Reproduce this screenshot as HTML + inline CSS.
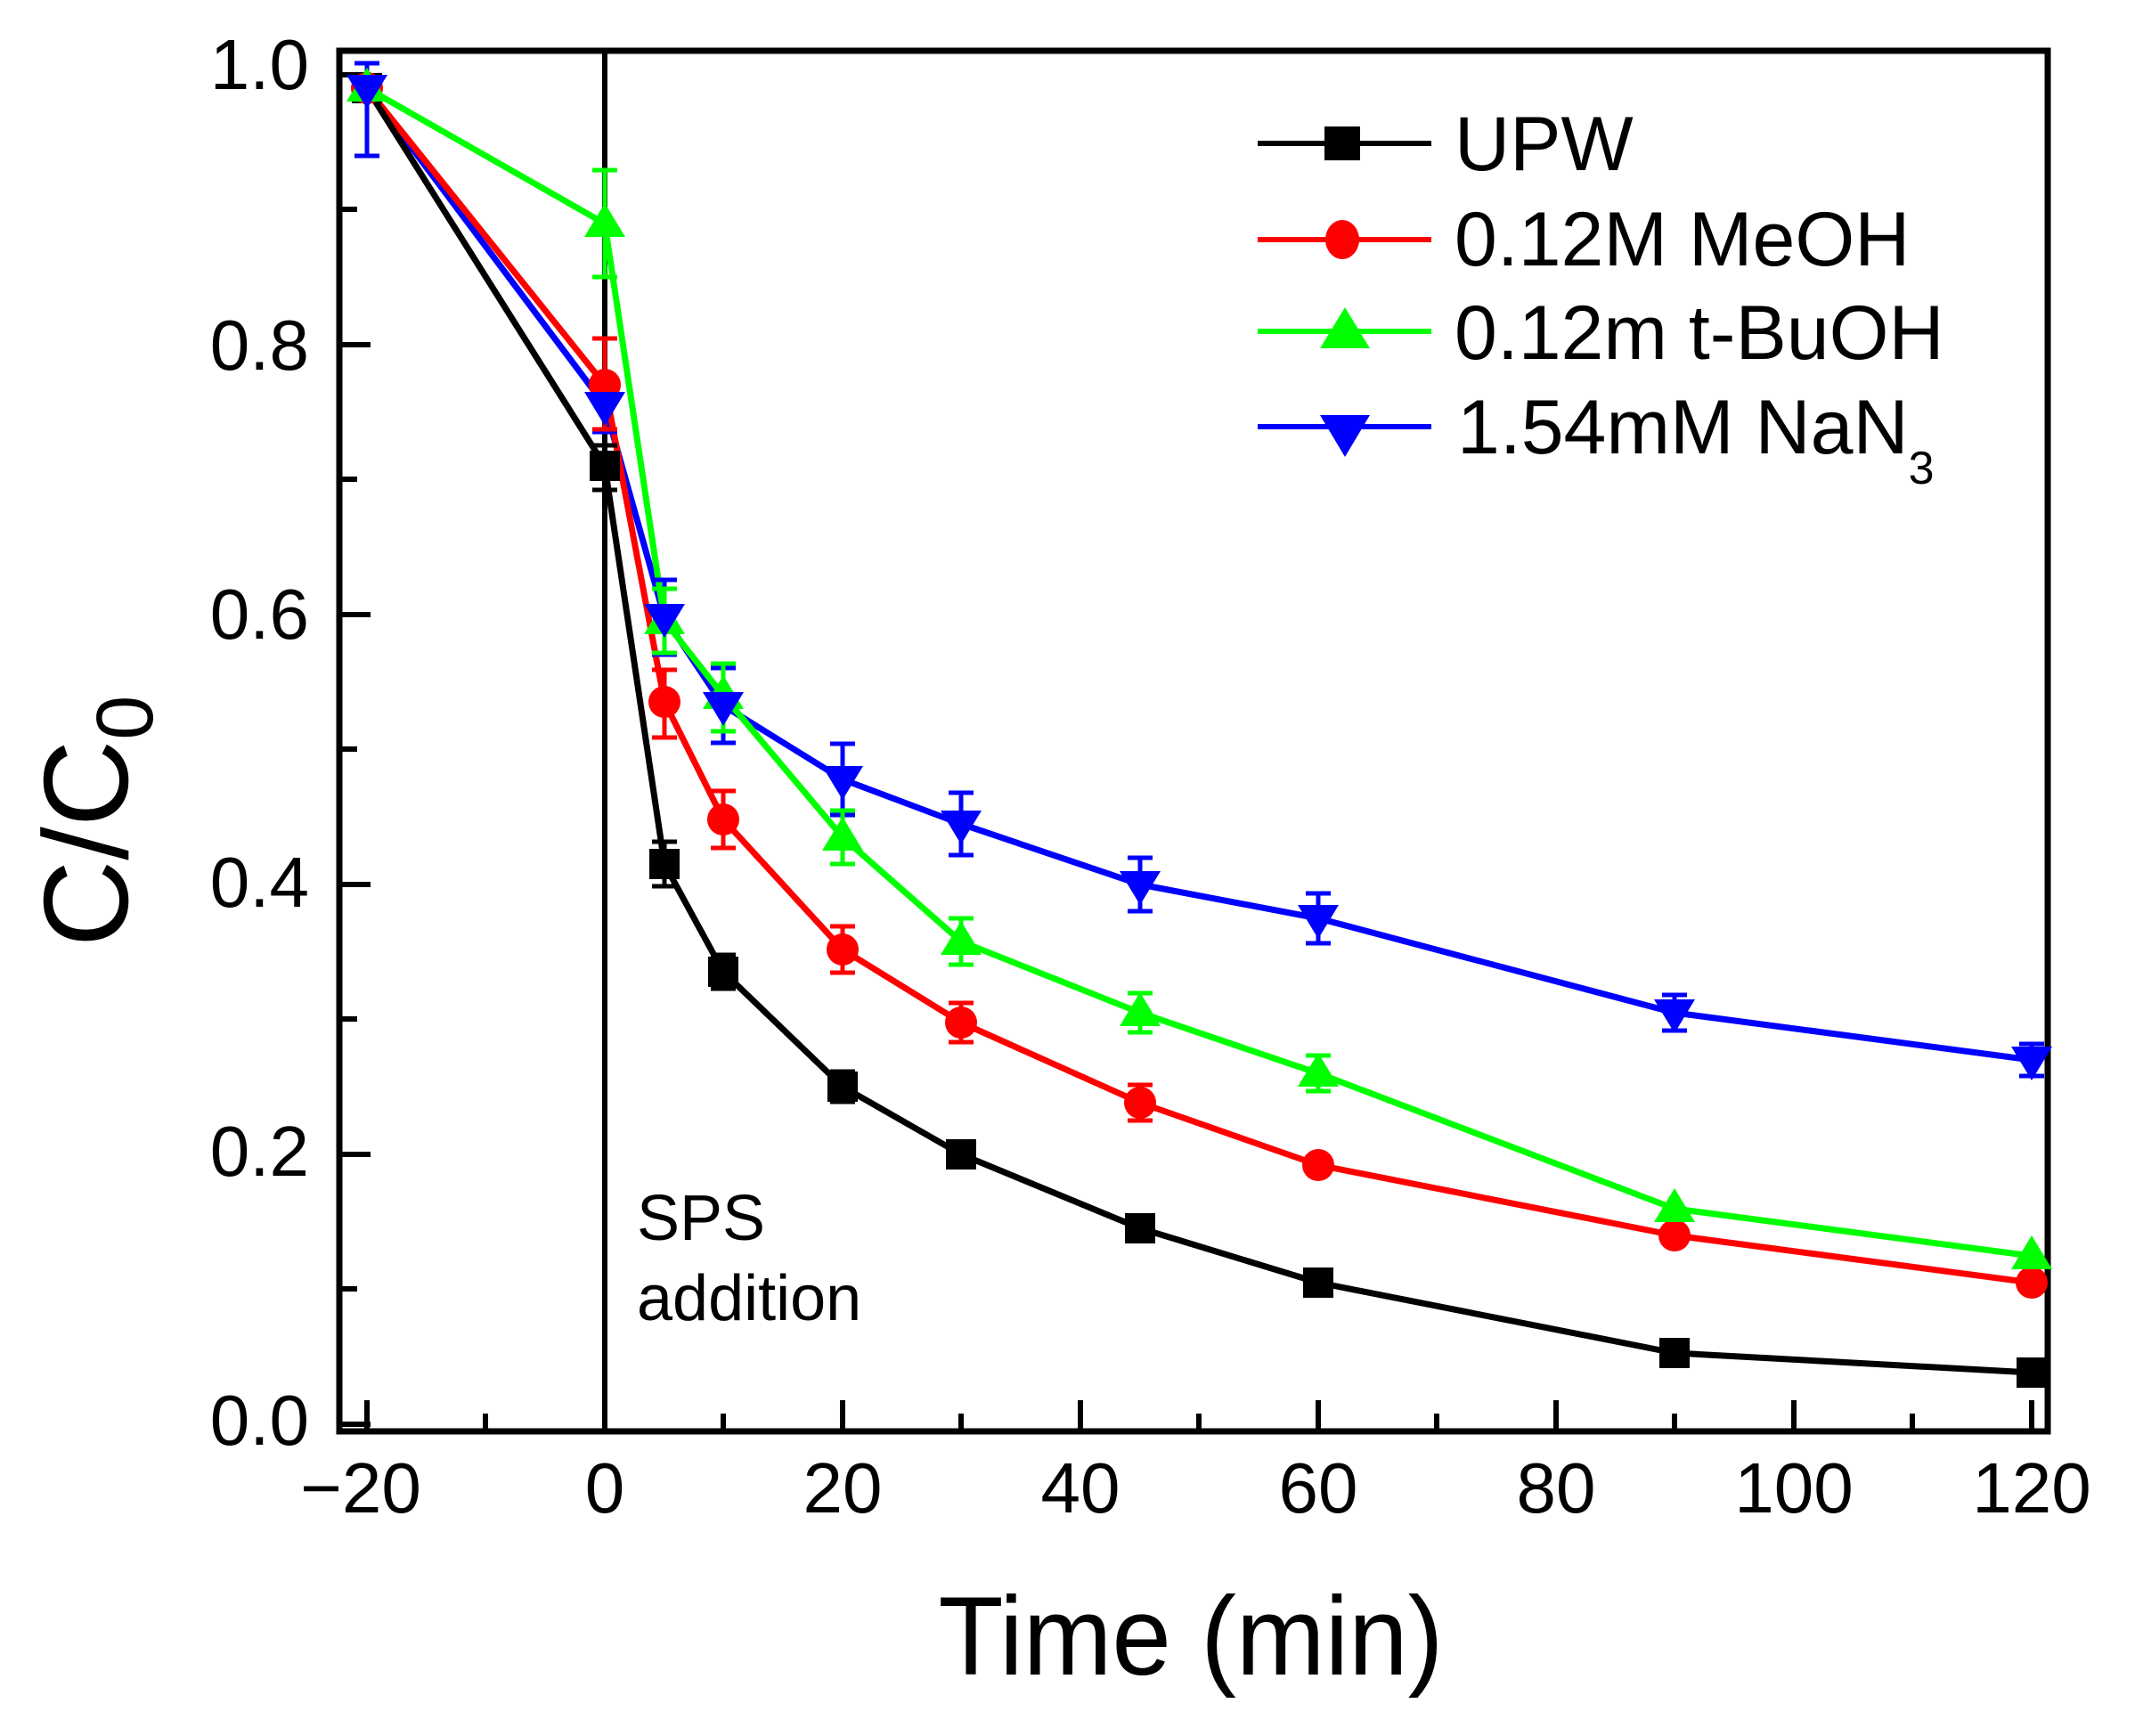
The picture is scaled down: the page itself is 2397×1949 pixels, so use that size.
<!DOCTYPE html>
<html><head><meta charset="utf-8"><style>
html,body{margin:0;padding:0;background:#fff;}
svg{display:block;}
text{font-family:"Liberation Sans",Arial,sans-serif;fill:#000;}
</style></head><body>
<svg width="2397" height="1949" viewBox="0 0 2397 1949" xmlns="http://www.w3.org/2000/svg">
<rect width="2397" height="1949" fill="#fff"/>
<g id="ticks" stroke="#000" stroke-width="6">
<line x1="381" y1="1599" x2="416" y2="1599"/>
<line x1="381" y1="1296" x2="416" y2="1296"/>
<line x1="381" y1="993" x2="416" y2="993"/>
<line x1="381" y1="690" x2="416" y2="690"/>
<line x1="381" y1="387" x2="416" y2="387"/>
<line x1="381" y1="84" x2="416" y2="84"/>
<line x1="381" y1="1447" x2="401" y2="1447"/>
<line x1="381" y1="1144" x2="401" y2="1144"/>
<line x1="381" y1="841" x2="401" y2="841"/>
<line x1="381" y1="538" x2="401" y2="538"/>
<line x1="381" y1="235" x2="401" y2="235"/>
<line x1="412" y1="1607" x2="412" y2="1572"/>
<line x1="679" y1="1607" x2="679" y2="1572"/>
<line x1="946" y1="1607" x2="946" y2="1572"/>
<line x1="1213" y1="1607" x2="1213" y2="1572"/>
<line x1="1480" y1="1607" x2="1480" y2="1572"/>
<line x1="1747" y1="1607" x2="1747" y2="1572"/>
<line x1="2014" y1="1607" x2="2014" y2="1572"/>
<line x1="2281" y1="1607" x2="2281" y2="1572"/>
<line x1="545" y1="1607" x2="545" y2="1587"/>
<line x1="812" y1="1607" x2="812" y2="1587"/>
<line x1="1079" y1="1607" x2="1079" y2="1587"/>
<line x1="1346" y1="1607" x2="1346" y2="1587"/>
<line x1="1613" y1="1607" x2="1613" y2="1587"/>
<line x1="1880" y1="1607" x2="1880" y2="1587"/>
<line x1="2147" y1="1607" x2="2147" y2="1587"/>
</g>
<line x1="679" y1="57" x2="679" y2="1607" stroke="#000" stroke-width="6"/>
<rect x="381" y="57" width="1918" height="1550" fill="none" stroke="#000" stroke-width="7"/>

<g font-size="80" text-anchor="end">
<text x="347" y="1622">0.0</text>
<text x="347" y="1320">0.2</text>
<text x="347" y="1018">0.4</text>
<text x="347" y="717">0.6</text>
<text x="347" y="415">0.8</text>
<text x="347" y="100">1.0</text>
</g>
<g font-size="80" text-anchor="middle">
<text x="405" y="1698">−20</text>
<text x="679" y="1698">0</text>
<text x="946" y="1698">20</text>
<text x="1213" y="1698">40</text>
<text x="1480" y="1698">60</text>
<text x="1747" y="1698">80</text>
<text x="2014" y="1698">100</text>
<text x="2281" y="1698">120</text>
</g>
<text x="1337" y="1880" font-size="125" text-anchor="middle" textLength="567" lengthAdjust="spacingAndGlyphs">Time (min)</text>
<g transform="translate(143,922) rotate(-90)">
<text x="0" y="0" font-size="135" text-anchor="middle">C/C<tspan font-size="90" dy="28">0</tspan></text>
</g>
<text x="715" y="1392" font-size="72">SPS</text>
<text x="715" y="1482" font-size="72">addition</text>

<g fill="none" stroke-width="7" stroke-linejoin="round">
<polyline stroke="#0000ff" points="412,99 679,455 746,693 812,792 946,875 1079,925 1280,993 1480,1031 1880,1137 2281,1190"/>
<polyline stroke="#00ff00" points="412,99 679,251 746,697 812,781 946,940 1079,1057 1280,1137 1480,1205 1880,1357 2281,1410"/>
<polyline stroke="#ff0000" points="412,99 679,432 746,788 812,920 946,1066 1079,1148 1280,1238 1480,1308 1880,1387 2281,1440"/>
<polyline stroke="#000" points="412,99 679,523 746,970 812,1091 946,1220 1079,1296 1280,1379 1480,1440 1880,1519 2281,1541"/>
</g>

<g stroke-width="5" fill="none">
<g stroke="#0000ff">
<path d="M412,71V175M398,71H426M398,175H426"/>
<path d="M679,425V485M665,425H693M665,485H693"/>
<path d="M746,651V735M732,651H760M732,735H760"/>
<path d="M812,750V834M798,750H826M798,834H826"/>
<path d="M946,835V915M932,835H960M932,915H960"/>
<path d="M1079,890V960M1065,890H1093M1065,960H1093"/>
<path d="M1280,963V1023M1266,963H1294M1266,1023H1294"/>
<path d="M1480,1003V1059M1466,1003H1494M1466,1059H1494"/>
<path d="M1880,1117V1157M1866,1117H1894M1866,1157H1894"/>
<path d="M2281,1172V1208M2267,1172H2295M2267,1208H2295"/>
</g>
<g stroke="#00ff00">
<path d="M679,191V311M665,191H693M665,311H693"/>
<path d="M746,661V733M732,661H760M732,733H760"/>
<path d="M812,745V821M798,745H826M798,821H826"/>
<path d="M946,910V970M932,910H960M932,970H960"/>
<path d="M1079,1031V1083M1065,1031H1093M1065,1083H1093"/>
<path d="M1280,1115V1159M1266,1115H1294M1266,1159H1294"/>
<path d="M1480,1185V1225M1466,1185H1494M1466,1225H1494"/>
</g>
<g stroke="#ff0000">
<path d="M679,380V482M665,380H693M665,482H693"/>
<path d="M746,752V828M732,752H760M732,828H760"/>
<path d="M812,888V952M798,888H826M798,952H826"/>
<path d="M946,1040V1092M932,1040H960M932,1092H960"/>
<path d="M1079,1126V1170M1065,1126H1093M1065,1170H1093"/>
<path d="M1280,1218V1258M1266,1218H1294M1266,1258H1294"/>
</g>
<g stroke="#000">
<path d="M679,500V550M665,500H693M665,550H693"/>
<path d="M746,945V995M732,945H760M732,995H760"/>
<path d="M812,1072V1110M798,1072H826M798,1110H826"/>
<path d="M946,1203V1237M932,1203H960M932,1237H960"/>
</g>
</g>

<g fill="#000">
<rect x="395" y="82" width="34" height="34"/>
<rect x="662" y="506" width="34" height="34"/>
<rect x="729" y="953" width="34" height="34"/>
<rect x="795" y="1074" width="34" height="34"/>
<rect x="929" y="1203" width="34" height="34"/>
<rect x="1062" y="1279" width="34" height="34"/>
<rect x="1263" y="1362" width="34" height="34"/>
<rect x="1463" y="1423" width="34" height="34"/>
<rect x="1863" y="1502" width="34" height="34"/>
<rect x="2264" y="1524" width="34" height="34"/>
</g>
<g fill="#ff0000">
<circle cx="412" cy="99" r="18"/><circle cx="679" cy="432" r="18"/><circle cx="746" cy="788" r="18"/><circle cx="812" cy="920" r="18"/><circle cx="946" cy="1066" r="18"/><circle cx="1079" cy="1148" r="18"/><circle cx="1280" cy="1238" r="18"/><circle cx="1480" cy="1308" r="18"/><circle cx="1880" cy="1387" r="18"/><circle cx="2281" cy="1440" r="18"/>
</g>
<g fill="#00ff00">
<path d="M412,76l23,38h-46z"/>
<path d="M679,228l23,38h-46z"/>
<path d="M746,674l23,38h-46z"/>
<path d="M812,758l23,38h-46z"/>
<path d="M946,917l23,38h-46z"/>
<path d="M1079,1034l23,38h-46z"/>
<path d="M1280,1114l23,38h-46z"/>
<path d="M1480,1182l23,38h-46z"/>
<path d="M1880,1334l23,38h-46z"/>
<path d="M2281,1387l23,38h-46z"/>
</g>
<g fill="#0000ff">
<path d="M412,122l23,-38h-46z"/>
<path d="M679,478l23,-38h-46z"/>
<path d="M746,716l23,-38h-46z"/>
<path d="M812,815l23,-38h-46z"/>
<path d="M946,898l23,-38h-46z"/>
<path d="M1079,948l23,-38h-46z"/>
<path d="M1280,1016l23,-38h-46z"/>
<path d="M1480,1054l23,-38h-46z"/>
<path d="M1880,1160l23,-38h-46z"/>
<path d="M2281,1213l23,-38h-46z"/>
</g>

<g stroke-width="6">
<line x1="1412" y1="161" x2="1607" y2="161" stroke="#000"/>
<line x1="1412" y1="269" x2="1607" y2="269" stroke="#ff0000"/>
<line x1="1412" y1="372" x2="1607" y2="372" stroke="#00ff00"/>
<line x1="1412" y1="479" x2="1607" y2="479" stroke="#0000ff"/>
</g>
<rect x="1487" y="142" width="40" height="38" fill="#000"/>
<ellipse cx="1507" cy="269" rx="19" ry="22" fill="#ff0000"/>
<path d="M1510,345l28,46h-56z" fill="#00ff00"/>
<path d="M1510,513l28,-47h-56z" fill="#0000ff"/>
<g font-size="86">
<text x="1633" y="191">UPW</text>
<text x="1633" y="298">0.12M MeOH</text>
<text x="1633" y="403">0.12m t-BuOH</text>
<text x="1636" y="509">1.54mM NaN<tspan font-size="52" dy="34">3</tspan></text>
</g>
</svg>
</body></html>
